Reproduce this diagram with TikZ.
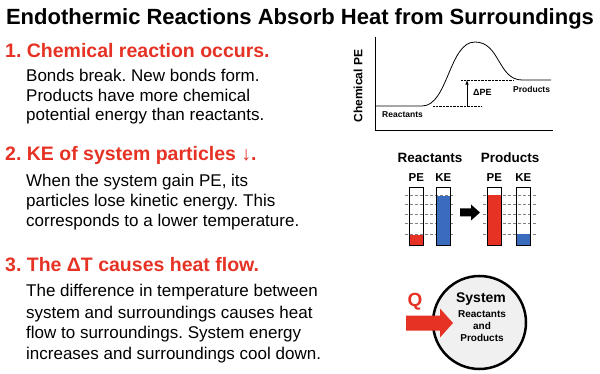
\documentclass[tikz,border=0pt]{standalone}
\usepackage{fontspec}
\setmainfont{Liberation Sans}
\frenchspacing
\definecolor{heatred}{RGB}{229,50,36}
\definecolor{keblue}{RGB}{58,108,190}
\definecolor{sysgray}{RGB}{240,240,240}
\begin{document}
\begin{tikzpicture}[x=1pt, y=-1pt,
  head/.style={anchor=base west, inner sep=0, text=heatred, font=\fontsize{19.5}{22}\selectfont\bfseries},
  body/.style={anchor=base west, inner sep=0, font=\fontsize{17}{20}\selectfont},
  small/.style={inner sep=0, font=\fontsize{8.5}{10}\selectfont\bfseries},
  tag/.style={anchor=base, inner sep=0, font=\fontsize{11.5}{13}\selectfont\bfseries},
  inner/.style={anchor=base, inner sep=0, font=\fontsize{10}{12}\selectfont\bfseries},
  level/.style={densely dotted, thin},
  gridline/.style={gray, densely dashed, very thin}]
  \useasboundingbox (0,0) rectangle (600,374);

  % title
  \node[anchor=base, inner sep=0, font=\fontsize{22}{26}\selectfont\bfseries] (title) at (300,25)
    {Endothermic Reactions Absorb Heat from Surroundings};

  % step 1
  \node[head] (h1) at (5,58) {1. Chemical reaction occurs.};
  \node[body] (b1a) at (26,82) {Bonds break. New bonds form.};
  \node[body] (b1b) at (26,102) {Products have more chemical};
  \node[body] (b1c) at (26,121) {potential energy than reactants.};

  % step 2
  \node[head] (h2) at (5,161) {2. KE of system particles ↓.};
  \node[body] (b2a) at (26,187) {When the system gain PE, its};
  \node[body] (b2b) at (26,207) {particles lose kinetic energy. This};
  \node[body] (b2c) at (26,227) {corresponds to a lower temperature.};

  % step 3
  \node[head] (h3) at (5,272) {3. The ΔT causes heat flow.};
  \node[body] (b3a) at (26,297) {The difference in temperature between};
  \node[body] (b3b) at (26,318) {system and surroundings causes heat};
  \node[body] (b3c) at (26,338) {flow to surroundings. System energy};
  \node[body] (b3d) at (26,359) {increases and surroundings cool down.};

  % energy diagram: axis
  \coordinate (origin) at (375,130);
  \draw[thick] (375,37) -- (origin) -- (553,130);
  \node[small, rotate=90, font=\fontsize{12}{14}\selectfont\bfseries] (ylabel) at (358,86) {Chemical PE};
  % energy diagram: curve
  \draw[thick] (375,106) -- (422,106) .. controls (448,106) and (449,42) .. (475,42)
    .. controls (500,42) and (498,80) .. (522,80) -- (551,80);
  \coordinate (low) at (467,106);
  \coordinate (high) at (467,80);
  \draw[level] (433,106) -- (482,106);
  \draw[level] (461,80) -- (513,80);
  \draw[-latex, semithick] (low) -- (high);
  \node[small, anchor=west, font=\fontsize{9}{10}\selectfont\bfseries] (dpe) at (473,92) {ΔPE};
  \node[small, anchor=west] (prod) at (513,89) {Products};
  \node[small, anchor=west] (react) at (382,115) {Reactants};

  % bars
  \node[anchor=base, inner sep=0, font=\fontsize{13.5}{16}\selectfont\bfseries] (rlabel) at (430,163) {Reactants};
  \node[anchor=base, inner sep=0, font=\fontsize{13.5}{16}\selectfont\bfseries] (plabel) at (510,163) {Products};
  \foreach \y in {195,204.5,214,223.5,234} {
    \draw[gridline] (405,\y) -- (455,\y);
    \draw[gridline] (483,\y) -- (536,\y);
  }
  \foreach \x/\top/\col/\lab in {409/235/heatred/PE, 436/196/keblue/KE, 487/195/heatred/PE, 516/234/keblue/KE} {
    \fill[\col] (\x,\top) rectangle ++(14.5,245-\top);
    \draw[semithick] (\x,187) rectangle ++(14.5,58);
    \node[tag] at (\x+7.25,182) {\lab};
  }
  \fill (460,208.5) -- (471,208.5) -- (471,204.5) -- (480,212.5) -- (471,220.5) -- (471,216.5) -- (460,216.5) -- cycle;

  % system
  \node[circle, draw, line width=2.5pt, fill=sysgray, minimum size=93pt, inner sep=0] (system) at (479.5,322.5) {};
  \node[anchor=base, inner sep=0, font=\fontsize{14}{16}\selectfont\bfseries] (stitle) at (481,302) {System};
  \node[inner] (sreact) at (482,317) {Reactants};
  \node[inner] (sand) at (482,329) {and};
  \node[inner] (sprod) at (482,341) {Products};
  \node[anchor=base, inner sep=0, text=heatred, font=\fontsize{19}{22}\selectfont\bfseries] (q) at (415,306) {Q};
  \fill[heatred] (406,315.5) -- (440,315.5) -- (440,308.5) -- (453,323) -- (440,337.5) -- (440,330.5) -- (406,330.5) -- cycle;
\end{tikzpicture}
\end{document}
